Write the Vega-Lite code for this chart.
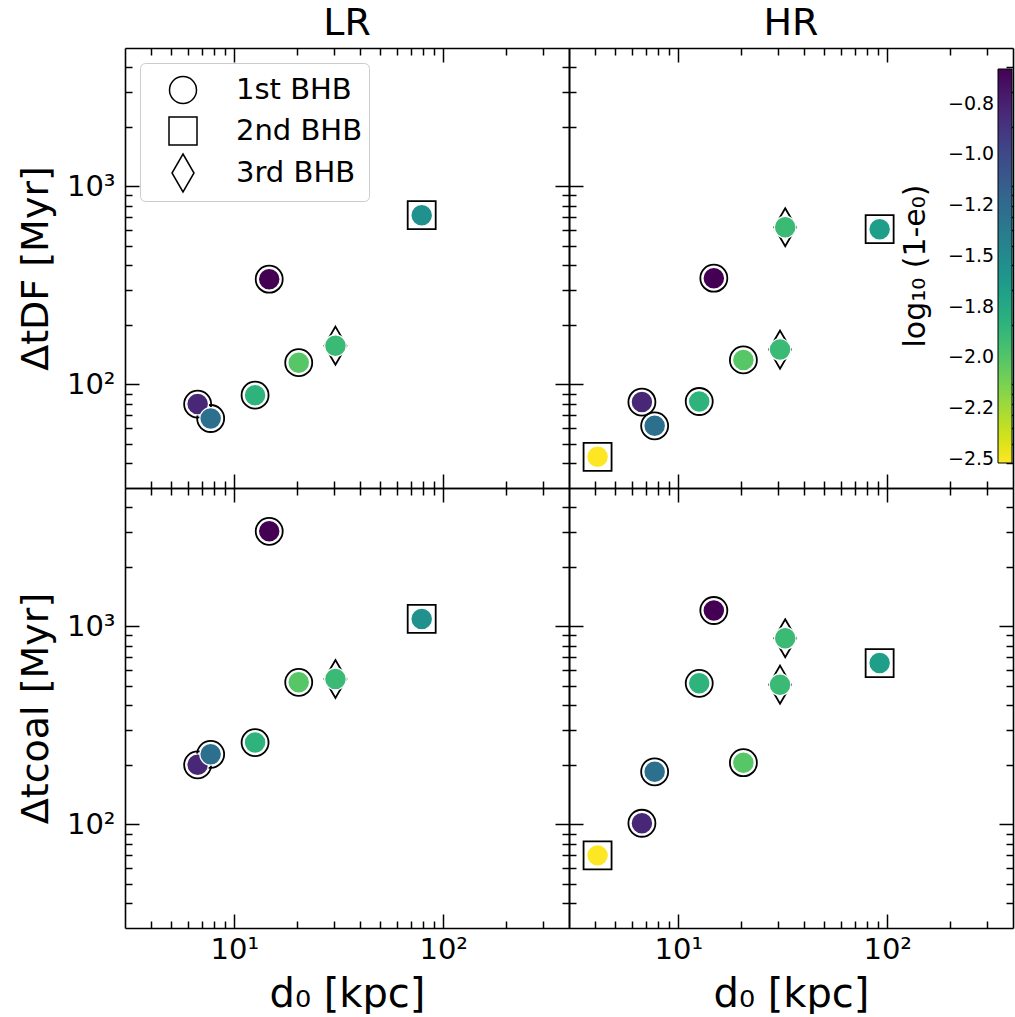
{
  "$schema": "https://vega.github.io/schema/vega-lite/v6.json",
  "padding": {"left": 17, "top": 5, "right": 1, "bottom": 0},
  "datasets": {
    "pts": [
      {"res":"LR","q":"DF","d0":6.68,"t":79.6,"bhb":"1st BHB","e":-0.79},
      {"res":"LR","q":"DF","d0":7.71,"t":67.3,"bhb":"1st BHB","e":-1.29},
      {"res":"LR","q":"DF","d0":12.58,"t":88.3,"bhb":"1st BHB","e":-1.84},
      {"res":"LR","q":"DF","d0":14.7,"t":340,"bhb":"1st BHB","e":-0.58},
      {"res":"LR","q":"DF","d0":20.35,"t":128.8,"bhb":"1st BHB","e":-2.01},
      {"res":"LR","q":"DF","d0":30.5,"t":157,"bhb":"3rd BHB","e":-1.9},
      {"res":"LR","q":"DF","d0":78.9,"t":716,"bhb":"2nd BHB","e":-1.55},
      {"res":"LR","q":"coal","d0":6.68,"t":200,"bhb":"1st BHB","e":-0.79},
      {"res":"LR","q":"coal","d0":7.71,"t":226,"bhb":"1st BHB","e":-1.29},
      {"res":"LR","q":"coal","d0":12.58,"t":259,"bhb":"1st BHB","e":-1.84},
      {"res":"LR","q":"coal","d0":14.7,"t":3020,"bhb":"1st BHB","e":-0.58},
      {"res":"LR","q":"coal","d0":20.35,"t":522,"bhb":"1st BHB","e":-2.01},
      {"res":"LR","q":"coal","d0":30.5,"t":543,"bhb":"3rd BHB","e":-1.9},
      {"res":"LR","q":"coal","d0":78.9,"t":1091,"bhb":"2nd BHB","e":-1.55},
      {"res":"HR","q":"DF","d0":4.11,"t":43.1,"bhb":"2nd BHB","e":-2.52},
      {"res":"HR","q":"DF","d0":6.7,"t":81.5,"bhb":"1st BHB","e":-0.79},
      {"res":"HR","q":"DF","d0":7.71,"t":61.8,"bhb":"1st BHB","e":-1.29},
      {"res":"HR","q":"DF","d0":12.6,"t":82,"bhb":"1st BHB","e":-1.84},
      {"res":"HR","q":"DF","d0":14.8,"t":344,"bhb":"1st BHB","e":-0.58},
      {"res":"HR","q":"DF","d0":20.5,"t":133,"bhb":"1st BHB","e":-2.01},
      {"res":"HR","q":"DF","d0":32.5,"t":622,"bhb":"3rd BHB","e":-1.9},
      {"res":"HR","q":"DF","d0":30.7,"t":150,"bhb":"3rd BHB","e":-1.9},
      {"res":"HR","q":"DF","d0":92,"t":608,"bhb":"2nd BHB","e":-1.66},
      {"res":"HR","q":"coal","d0":4.11,"t":69.8,"bhb":"2nd BHB","e":-2.52},
      {"res":"HR","q":"coal","d0":6.7,"t":101.4,"bhb":"1st BHB","e":-0.79},
      {"res":"HR","q":"coal","d0":7.71,"t":184.5,"bhb":"1st BHB","e":-1.29},
      {"res":"HR","q":"coal","d0":12.6,"t":516,"bhb":"1st BHB","e":-1.84},
      {"res":"HR","q":"coal","d0":14.8,"t":1203,"bhb":"1st BHB","e":-0.58},
      {"res":"HR","q":"coal","d0":20.5,"t":205,"bhb":"1st BHB","e":-2.01},
      {"res":"HR","q":"coal","d0":32.5,"t":871,"bhb":"3rd BHB","e":-1.9},
      {"res":"HR","q":"coal","d0":30.7,"t":508,"bhb":"3rd BHB","e":-1.9},
      {"res":"HR","q":"coal","d0":92,"t":653,"bhb":"2nd BHB","e":-1.66}
    ]
  },
  "config": {
    "font": "DejaVu Sans",
    "view": {"stroke": null},
    "axis": {
      "domainColor": "black", "domainWidth": 1.6, "tickColor": "black", "tickWidth": 1.5,
      "labelColor": "black", "titleColor": "black", "grid": false, "minExtent": 0, "maxExtent": 300,
      "labelFont": "DejaVu Sans", "titleFont": "DejaVu Sans", "titleFontWeight": "normal",
      "labelFontSize": 29, "titleFontSize": 40, "labelOverlap": false, "labelFlush": false, "labelBound": false
    },
    "title": {"font": "DejaVu Sans", "fontSize": 38, "fontWeight": "normal", "color": "black"}
  },
  "columns": 2,
  "spacing": 0,
  "bounds": "flush",
  "resolve": {
    "scale": {"color": "independent", "shape": "independent"},
    "legend": {"color": "independent", "shape": "independent"}
  },
  "concat": [
    {
      "width": 444, "height": 440,
      "title": {"text": "LR", "offset": -26, "baseline": "alphabetic", "anchor": "middle"},
      "data": {"name": "pts"},
      "transform": [{"filter": "datum.res == 'LR' && datum.q == 'DF'"}],
      "layer": [
        {
          "mark": {"type": "point", "filled": false, "color": "black", "strokeWidth": 1.8, "opacity": 1, "size": 1600},
          "encoding": {
            "x": {"field": "d0", "type": "quantitative", "scale": {"type": "log", "domain": [3, 400]},
              "axis": {"orient": "bottom", "values": [10, 100], "ticks": false, "labels": false, "title": null}},
            "y": {"field": "t", "type": "quantitative", "scale": {"type": "log", "domain": [30, 5000]},
              "axis": {"orient": "left", "values": [100, 1000], "ticks": false, "labelFontSize": 29,
                "labelExpr": "datum.value == 100 ? '10²' : '10³'", "labelPadding": 10,
                "title": "ΔtDF [Myr]", "titleFontSize": 38, "titlePadding": 11}},
            "shape": {"field": "bhb", "type": "nominal",
              "scale": {"domain": ["1st BHB", "2nd BHB", "3rd BHB"],
                "range": ["M0.675,0A0.675,0.675,0,1,1,-0.675,0A0.675,0.675,0,1,1,0.675,0Z", "M-0.7,-0.7L0.7,-0.7L0.7,0.7L-0.7,0.7Z", "M0,-0.95L0.55,0L0,0.95L-0.55,0Z"]},
              "legend": {"title": null, "orient": "top-left", "offset": 15, "padding": 6, "fillColor": "white", "strokeColor": "#cccccc",
                "cornerRadius": 5, "labelFontSize": 29, "labelFont": "DejaVu Sans", "labelColor": "black",
                "symbolStrokeColor": "black", "symbolStrokeWidth": 1.5, "symbolSize": 1600, "rowPadding": 3, "labelOffset": 32, "symbolOffset": 16}}
          }
        },
        {
          "mark": {"type": "circle", "size": 470, "stroke": "white", "strokeWidth": 1.2, "opacity": 1},
          "encoding": {
            "x": {"field": "d0", "type": "quantitative", "scale": {"type": "log", "domain": [3, 400]},
              "axis": {"orient": "top", "values": [4,5,6,7,8,9,10,20,30,40,50,60,70,80,90,100,200,300], "labels": false, "title": null, "minExtent": 0, "maxExtent": 0,
                "tickSize": {"condition": {"test": "datum.value == 10 || datum.value == 100", "value": -14}, "value": -7}}},
            "y": {"field": "t", "type": "quantitative", "scale": {"type": "log", "domain": [30, 5000]},
              "axis": {"orient": "right", "values": [40,50,60,70,80,90,100,200,300,400,500,600,700,800,900,1000,2000,3000,4000], "labels": false, "title": null, "minExtent": 0, "maxExtent": 0,
                "tickSize": {"condition": {"test": "datum.value == 100 || datum.value == 1000", "value": -14}, "value": -7}}},
            "color": {"field": "e", "type": "quantitative", "scale": {"scheme": "viridis", "reverse": true, "domain": [-2.52, -0.58]}, "legend": null}
          }
        },
        {
          "mark": {"type": "circle", "size": 10, "opacity": 0},
          "encoding": {
            "x": {"field": "d0", "type": "quantitative", "scale": {"type": "log", "domain": [3, 400]},
              "axis": {"orient": "bottom", "values": [4,5,6,7,8,9,10,20,30,40,50,60,70,80,90,100,200,300], "labels": false, "title": null, "domain": false, "minExtent": 0, "maxExtent": 0,
                "tickSize": {"condition": {"test": "datum.value == 10 || datum.value == 100", "value": -14}, "value": -7}}},
            "y": {"field": "t", "type": "quantitative", "scale": {"type": "log", "domain": [30, 5000]},
              "axis": {"orient": "left", "values": [40,50,60,70,80,90,100,200,300,400,500,600,700,800,900,1000,2000,3000,4000], "labels": false, "title": null, "domain": false, "minExtent": 0, "maxExtent": 0,
                "tickSize": {"condition": {"test": "datum.value == 100 || datum.value == 1000", "value": -14}, "value": -7}}}
          }
        }
      ],
      "resolve": {"axis": {"x": "independent", "y": "independent"}}
    },
    {
      "width": 444, "height": 440,
      "title": {"text": "HR", "offset": -26, "baseline": "alphabetic", "anchor": "middle"},
      "data": {"name": "pts"},
      "transform": [{"filter": "datum.res == 'HR' && datum.q == 'DF'"}],
      "layer": [
        {
          "mark": {"type": "point", "filled": false, "color": "black", "strokeWidth": 1.8, "opacity": 1, "size": 1600},
          "encoding": {
            "x": {"field": "d0", "type": "quantitative", "scale": {"type": "log", "domain": [3, 400]},
              "axis": {"orient": "bottom", "values": [10, 100], "ticks": false, "labels": false, "title": null}},
            "y": {"field": "t", "type": "quantitative", "scale": {"type": "log", "domain": [30, 5000]},
              "axis": {"orient": "left", "values": [100, 1000], "ticks": false, "labels": false, "title": null}},
            "shape": {"field": "bhb", "type": "nominal",
              "scale": {"domain": ["1st BHB", "2nd BHB", "3rd BHB"],
                "range": ["M0.675,0A0.675,0.675,0,1,1,-0.675,0A0.675,0.675,0,1,1,0.675,0Z", "M-0.7,-0.7L0.7,-0.7L0.7,0.7L-0.7,0.7Z", "M0,-0.95L0.55,0L0,0.95L-0.55,0Z"]},
              "legend": null}
          }
        },
        {
          "mark": {"type": "circle", "size": 470, "stroke": "white", "strokeWidth": 1.2, "opacity": 1},
          "encoding": {
            "x": {"field": "d0", "type": "quantitative", "scale": {"type": "log", "domain": [3, 400]},
              "axis": {"orient": "top", "values": [4,5,6,7,8,9,10,20,30,40,50,60,70,80,90,100,200,300], "labels": false, "title": null, "minExtent": 0, "maxExtent": 0,
                "tickSize": {"condition": {"test": "datum.value == 10 || datum.value == 100", "value": -14}, "value": -7}}},
            "y": {"field": "t", "type": "quantitative", "scale": {"type": "log", "domain": [30, 5000]},
              "axis": {"orient": "right", "values": [40,50,60,70,80,90,100,200,300,400,500,600,700,800,900,1000,2000,3000,4000], "labels": false, "title": null, "minExtent": 0, "maxExtent": 0,
                "tickSize": {"condition": {"test": "datum.value == 100 || datum.value == 1000", "value": -14}, "value": -7}}},
            "color": {"field": "e", "type": "quantitative", "scale": {"scheme": "viridis", "reverse": true, "domain": [-2.52, -0.58]},
              "legend": {"title": "log₁₀ (1-e₀)", "orient": "none", "legendX": 332, "legendY": 21, "direction": "vertical",
                "gradientLength": 394, "gradientThickness": 14, "gradientStrokeColor": "black", "gradientStrokeWidth": 1,
                "values": [-0.75, -1, -1.25, -1.5, -1.75, -2, -2.25, -2.5],
                "labelExpr": "datum.value == -0.75 ? '−0.8' : datum.value == -1 ? '−1.0' : datum.value == -1.25 ? '−1.2' : datum.value == -1.5 ? '−1.5' : datum.value == -1.75 ? '−1.8' : datum.value == -2 ? '−2.0' : datum.value == -2.25 ? '−2.2' : '−2.5'",
                "labelFontSize": 19, "labelFont": "DejaVu Sans", "labelColor": "black", "labelOverlap": false, "labelOffset": -64,
                "titleOrient": "left", "titleAngle": 270, "titleFontSize": 30, "titleFontWeight": "normal", "titleFont": "DejaVu Sans", "titleColor": "black",
                "titleAnchor": "middle", "titlePadding": 66, "padding": 0}}
          }
        },
        {
          "mark": {"type": "circle", "size": 10, "opacity": 0},
          "encoding": {
            "x": {"field": "d0", "type": "quantitative", "scale": {"type": "log", "domain": [3, 400]},
              "axis": {"orient": "bottom", "values": [4,5,6,7,8,9,10,20,30,40,50,60,70,80,90,100,200,300], "labels": false, "title": null, "domain": false, "minExtent": 0, "maxExtent": 0,
                "tickSize": {"condition": {"test": "datum.value == 10 || datum.value == 100", "value": -14}, "value": -7}}},
            "y": {"field": "t", "type": "quantitative", "scale": {"type": "log", "domain": [30, 5000]},
              "axis": {"orient": "left", "values": [40,50,60,70,80,90,100,200,300,400,500,600,700,800,900,1000,2000,3000,4000], "labels": false, "title": null, "domain": false, "minExtent": 0, "maxExtent": 0,
                "tickSize": {"condition": {"test": "datum.value == 100 || datum.value == 1000", "value": -14}, "value": -7}}}
          }
        }
      ],
      "resolve": {"axis": {"x": "independent", "y": "independent"}}
    },
    {
      "width": 444, "height": 440,
      "data": {"name": "pts"},
      "transform": [{"filter": "datum.res == 'LR' && datum.q == 'coal'"}],
      "layer": [
        {
          "mark": {"type": "point", "filled": false, "color": "black", "strokeWidth": 1.8, "opacity": 1, "size": 1600},
          "encoding": {
            "x": {"field": "d0", "type": "quantitative", "scale": {"type": "log", "domain": [3, 400]},
              "axis": {"orient": "bottom", "values": [10, 100], "ticks": false, "labelFontSize": 29,
                "labelExpr": "datum.value == 10 ? '10¹' : '10²'", "labelPadding": 7,
                "title": "d₀ [kpc]", "titleFontSize": 40, "titlePadding": 10}},
            "y": {"field": "t", "type": "quantitative", "scale": {"type": "log", "domain": [30, 5000]},
              "axis": {"orient": "left", "values": [100, 1000], "ticks": false, "labelFontSize": 29,
                "labelExpr": "datum.value == 100 ? '10²' : '10³'", "labelPadding": 10,
                "title": "Δtcoal [Myr]", "titleFontSize": 38, "titlePadding": 11}},
            "shape": {"field": "bhb", "type": "nominal",
              "scale": {"domain": ["1st BHB", "2nd BHB", "3rd BHB"],
                "range": ["M0.675,0A0.675,0.675,0,1,1,-0.675,0A0.675,0.675,0,1,1,0.675,0Z", "M-0.7,-0.7L0.7,-0.7L0.7,0.7L-0.7,0.7Z", "M0,-0.95L0.55,0L0,0.95L-0.55,0Z"]},
              "legend": null}
          }
        },
        {
          "mark": {"type": "circle", "size": 470, "stroke": "white", "strokeWidth": 1.2, "opacity": 1},
          "encoding": {
            "x": {"field": "d0", "type": "quantitative", "scale": {"type": "log", "domain": [3, 400]},
              "axis": {"orient": "top", "values": [4,5,6,7,8,9,10,20,30,40,50,60,70,80,90,100,200,300], "labels": false, "title": null, "minExtent": 0, "maxExtent": 0,
                "tickSize": {"condition": {"test": "datum.value == 10 || datum.value == 100", "value": -14}, "value": -7}}},
            "y": {"field": "t", "type": "quantitative", "scale": {"type": "log", "domain": [30, 5000]},
              "axis": {"orient": "right", "values": [40,50,60,70,80,90,100,200,300,400,500,600,700,800,900,1000,2000,3000,4000], "labels": false, "title": null, "minExtent": 0, "maxExtent": 0,
                "tickSize": {"condition": {"test": "datum.value == 100 || datum.value == 1000", "value": -14}, "value": -7}}},
            "color": {"field": "e", "type": "quantitative", "scale": {"scheme": "viridis", "reverse": true, "domain": [-2.52, -0.58]}, "legend": null}
          }
        },
        {
          "mark": {"type": "circle", "size": 10, "opacity": 0},
          "encoding": {
            "x": {"field": "d0", "type": "quantitative", "scale": {"type": "log", "domain": [3, 400]},
              "axis": {"orient": "bottom", "values": [4,5,6,7,8,9,10,20,30,40,50,60,70,80,90,100,200,300], "labels": false, "title": null, "domain": false, "minExtent": 0, "maxExtent": 0,
                "tickSize": {"condition": {"test": "datum.value == 10 || datum.value == 100", "value": -14}, "value": -7}}},
            "y": {"field": "t", "type": "quantitative", "scale": {"type": "log", "domain": [30, 5000]},
              "axis": {"orient": "left", "values": [40,50,60,70,80,90,100,200,300,400,500,600,700,800,900,1000,2000,3000,4000], "labels": false, "title": null, "domain": false, "minExtent": 0, "maxExtent": 0,
                "tickSize": {"condition": {"test": "datum.value == 100 || datum.value == 1000", "value": -14}, "value": -7}}}
          }
        }
      ],
      "resolve": {"axis": {"x": "independent", "y": "independent"}}
    },
    {
      "width": 444, "height": 440,
      "data": {"name": "pts"},
      "transform": [{"filter": "datum.res == 'HR' && datum.q == 'coal'"}],
      "layer": [
        {
          "mark": {"type": "point", "filled": false, "color": "black", "strokeWidth": 1.8, "opacity": 1, "size": 1600},
          "encoding": {
            "x": {"field": "d0", "type": "quantitative", "scale": {"type": "log", "domain": [3, 400]},
              "axis": {"orient": "bottom", "values": [10, 100], "ticks": false, "labelFontSize": 29,
                "labelExpr": "datum.value == 10 ? '10¹' : '10²'", "labelPadding": 7,
                "title": "d₀ [kpc]", "titleFontSize": 40, "titlePadding": 10}},
            "y": {"field": "t", "type": "quantitative", "scale": {"type": "log", "domain": [30, 5000]},
              "axis": {"orient": "left", "values": [100, 1000], "ticks": false, "labels": false, "title": null}},
            "shape": {"field": "bhb", "type": "nominal",
              "scale": {"domain": ["1st BHB", "2nd BHB", "3rd BHB"],
                "range": ["M0.675,0A0.675,0.675,0,1,1,-0.675,0A0.675,0.675,0,1,1,0.675,0Z", "M-0.7,-0.7L0.7,-0.7L0.7,0.7L-0.7,0.7Z", "M0,-0.95L0.55,0L0,0.95L-0.55,0Z"]},
              "legend": null}
          }
        },
        {
          "mark": {"type": "circle", "size": 470, "stroke": "white", "strokeWidth": 1.2, "opacity": 1},
          "encoding": {
            "x": {"field": "d0", "type": "quantitative", "scale": {"type": "log", "domain": [3, 400]},
              "axis": {"orient": "top", "values": [4,5,6,7,8,9,10,20,30,40,50,60,70,80,90,100,200,300], "labels": false, "title": null, "minExtent": 0, "maxExtent": 0,
                "tickSize": {"condition": {"test": "datum.value == 10 || datum.value == 100", "value": -14}, "value": -7}}},
            "y": {"field": "t", "type": "quantitative", "scale": {"type": "log", "domain": [30, 5000]},
              "axis": {"orient": "right", "values": [40,50,60,70,80,90,100,200,300,400,500,600,700,800,900,1000,2000,3000,4000], "labels": false, "title": null, "minExtent": 0, "maxExtent": 0,
                "tickSize": {"condition": {"test": "datum.value == 100 || datum.value == 1000", "value": -14}, "value": -7}}},
            "color": {"field": "e", "type": "quantitative", "scale": {"scheme": "viridis", "reverse": true, "domain": [-2.52, -0.58]}, "legend": null}
          }
        },
        {
          "mark": {"type": "circle", "size": 10, "opacity": 0},
          "encoding": {
            "x": {"field": "d0", "type": "quantitative", "scale": {"type": "log", "domain": [3, 400]},
              "axis": {"orient": "bottom", "values": [4,5,6,7,8,9,10,20,30,40,50,60,70,80,90,100,200,300], "labels": false, "title": null, "domain": false, "minExtent": 0, "maxExtent": 0,
                "tickSize": {"condition": {"test": "datum.value == 10 || datum.value == 100", "value": -14}, "value": -7}}},
            "y": {"field": "t", "type": "quantitative", "scale": {"type": "log", "domain": [30, 5000]},
              "axis": {"orient": "left", "values": [40,50,60,70,80,90,100,200,300,400,500,600,700,800,900,1000,2000,3000,4000], "labels": false, "title": null, "domain": false, "minExtent": 0, "maxExtent": 0,
                "tickSize": {"condition": {"test": "datum.value == 100 || datum.value == 1000", "value": -14}, "value": -7}}}
          }
        }
      ],
      "resolve": {"axis": {"x": "independent", "y": "independent"}}
    }
  ]
}
